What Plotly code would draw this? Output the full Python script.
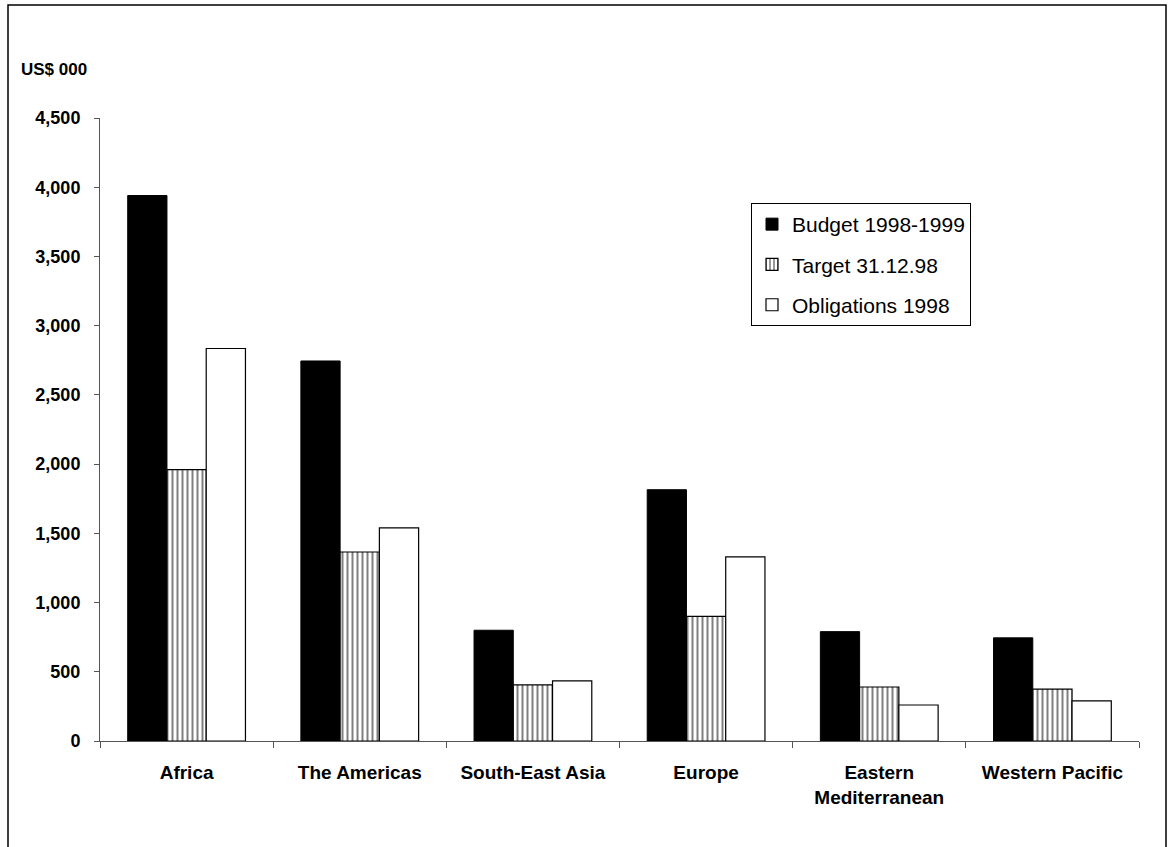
import plotly.graph_objects as go

# Regional allocations, US$ thousands
regions = ["Africa", "The Americas", "South-East Asia", "Europe",
           "Eastern<br>Mediterranean", "Western Pacific"]
budget_1998_1999 = [3940, 2745, 800, 1815, 790, 745]
target_31_12_98 = [1960, 1365, 405, 900, 390, 375]
obligations_1998 = [2835, 1540, 435, 1330, 260, 290]

y_ticks = [0, 500, 1000, 1500, 2000, 2500, 3000, 3500, 4000, 4500]
y_tick_text = ["0", "500", "1,000", "1,500", "2,000", "2,500",
               "3,000", "3,500", "4,000", "4,500"]

FONT = "Liberation Sans, Arial, sans-serif"
W, H = 1169, 847
L, R, T, B = 100, 30, 118, 106

fig = go.Figure()
fig.add_trace(go.Bar(
    name="Budget 1998-1999", x=regions, y=budget_1998_1999,
    marker=dict(color="black", line=dict(color="black", width=1)),
    legendgroup="a",
))
fig.add_trace(go.Bar(
    name="Target 31.12.98", x=regions, y=target_31_12_98,
    marker=dict(color="white", line=dict(color="black", width=1.2),
                pattern=dict(shape="|", size=5, solidity=0.4,
                             fgcolor="black", bgcolor="white")),
    legendgroup="b",
))
fig.add_trace(go.Bar(
    name="Obligations 1998", x=regions, y=obligations_1998,
    marker=dict(color="white", line=dict(color="black", width=1.2)),
    legendgroup="c",
))

plot_w = W - L - R
plot_h = H - T - B


def px_x(px):
    return (px - L) / plot_w


def px_y(py):
    return (H - B - py) / plot_h


fig.update_layout(
    width=W, height=H,
    margin=dict(l=L, r=R, t=T, b=B, autoexpand=False),
    paper_bgcolor="white", plot_bgcolor="white",
    barmode="group", bargap=0.32, bargroupgap=0,
    font=dict(family=FONT, color="black"),
    showlegend=True,
    legend=dict(
        x=px_x(751), y=px_y(203), xanchor="left", yanchor="top",
        bgcolor="white", bordercolor="black", borderwidth=1,
        font=dict(family=FONT, size=21, color="black"),
        traceorder="grouped", tracegroupgap=10,
        itemclick=False,
    ),
    xaxis=dict(
        showline=True, linecolor="#555", linewidth=1,
        ticks="outside", tickson="boundaries", ticklen=6, tickcolor="#555",
        tickfont=dict(family=FONT, size=19, weight="bold"),
        ticklabelstandoff=14,
        showgrid=False, zeroline=False, fixedrange=True,
    ),
    yaxis=dict(
        range=[0, 4500], tickvals=y_ticks, ticktext=y_tick_text,
        showline=True, linecolor="#555", linewidth=1,
        ticks="outside", ticklen=5, tickcolor="#555",
        tickfont=dict(family=FONT, size=18, weight="bold"),
        ticklabelstandoff=10,
        showgrid=False, zeroline=False, fixedrange=True,
    ),
    annotations=[dict(
        text="US$ 000", xref="paper", yref="paper",
        x=px_x(19), y=px_y(70), xanchor="left", yanchor="middle",
        showarrow=False, font=dict(family=FONT, size=17, weight="bold"),
    )],
    shapes=[dict(
        type="rect", xref="paper", yref="paper",
        x0=px_x(8), x1=px_x(1166), y0=px_y(850), y1=px_y(5),
        line=dict(color="black", width=1.5), fillcolor="rgba(0,0,0,0)",
        layer="below",
    )],
)

fig.write_html("out.html")
